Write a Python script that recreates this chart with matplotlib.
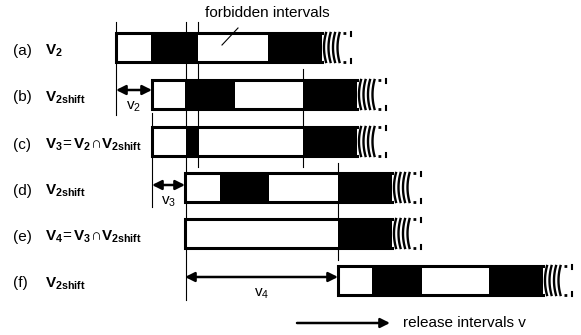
import numpy as np
import matplotlib
matplotlib.use('Agg')
import matplotlib.pyplot as plt
from matplotlib.patches import Rectangle

plt.rcParams['font.family'] = ['Liberation Sans', 'DejaVu Sans']
plt.rcParams['mathtext.fontset'] = 'custom'
plt.rcParams['mathtext.rm'] = 'Liberation Sans'
plt.rcParams['mathtext.it'] = 'Liberation Sans'
plt.rcParams['mathtext.bf'] = 'Liberation Sans:bold'

# rows of the diagram (pixel scale of the original figure)
row_tags = ['(a)', '(b)', '(c)', '(d)', '(e)', '(f)']
row_names = [r'$\mathbf{V_2}$',
             r'$\mathbf{V_{2shift}}$',
             r'$\mathbf{V_3}\!{=}\mathbf{V_2}{\cap}\mathbf{V_{2shift}}$',
             r'$\mathbf{V_{2shift}}$',
             r'$\mathbf{V_4}\!{=}\mathbf{V_3}{\cap}\mathbf{V_{2shift}}$',
             r'$\mathbf{V_{2shift}}$']
row_y = [47.5, 94.5, 141.5, 187.5, 233.5, 280.5]
bar_start = [116, 152, 152, 185, 185, 338]
bar_end = [322, 357, 357, 392, 392, 543]
forbidden = [
    [(151, 198), (268, 322)],
    [(185, 235), (303, 357)],
    [(186, 199), (303, 357)],
    [(220, 269), (338, 392)],
    [(338, 392)],
    [(372, 422), (489, 543)],
]

# thin guide lines: x, y from, y to
guides = [(116, 22, 115), (186, 22, 300), (198, 22, 167),
          (152, 113, 207), (303, 69, 167), (338, 163, 260)]

# shift arrows: x from, x to, y, label
shifts = [(116, 152, 90, r'v$_2$'), (152, 185, 185, r'v$_3$'), (185, 338, 277, r'v$_4$')]

H = 29

fig = plt.figure(figsize=(5.81, 3.35), dpi=100)
ax = fig.add_axes([0, 0, 1, 1])
ax.set_xlim(0, 581)
ax.set_ylim(335, 0)
ax.axis('off')

for x, y0, y1 in guides:
    ax.plot([x, x], [y0, y1], color='black', lw=0.8, zorder=1)

for i in range(len(row_y)):
    yc = row_y[i]
    top, bot = yc - H / 2, yc + H / 2
    s, e = bar_start[i], bar_end[i]
    ax.add_patch(Rectangle((s, top), e - s, H, facecolor='white', edgecolor='none', zorder=2))
    for a, b in forbidden[i]:
        ax.add_patch(Rectangle((a, top), b - a, H, facecolor='black', edgecolor='none', zorder=3))
    ax.plot([e, s, s, e], [top, top, bot, bot], color='black', lw=2.2,
            solid_joinstyle='miter', zorder=4)
    # broken continuation marks
    yy = np.linspace(top, bot, 30)
    for k in range(4):
        x0 = e + 2 + 4.5 * k
        ax.plot(x0 + 2.0 * ((yy - yc) / (H / 2)) ** 2, yy, color='black', lw=1.7, zorder=4)
    for yl in (top, bot):
        ax.plot([e + 21, e + 27], [yl, yl], color='black', lw=2, ls=(0, (1, 1.3)), zorder=4)
    ax.plot([e + 29, e + 29], [top - 1, top + 3], color='black', lw=1.5, zorder=4)
    ax.plot([e + 29, e + 29], [bot - 3, bot + 1], color='black', lw=1.5, zorder=4)

    ax.text(13, yc + 3, row_tags[i], fontsize=11, ha='left', va='center')
    ax.text(45, yc + 3, row_names[i], fontsize=11, ha='left', va='center')

for x0, x1, y, lab in shifts:
    ax.annotate('', xy=(x1, y), xytext=(x0, y),
                arrowprops=dict(arrowstyle='<|-|>', color='black', lw=1.8,
                                mutation_scale=14, shrinkA=0, shrinkB=0), zorder=5)
    ax.text((x0 + x1) / 2, y + 17, lab, fontsize=11, ha='center', va='center')

ax.text(205, 13, 'forbidden intervals', fontsize=11, ha='left', va='center')
ax.plot([222, 238], [45, 28], color='black', lw=0.8, zorder=5)

ax.annotate('', xy=(390, 323), xytext=(297, 323),
            arrowprops=dict(arrowstyle='-|>', color='black', lw=1.8,
                            mutation_scale=14, shrinkA=0, shrinkB=0))
ax.text(403, 323, 'release intervals v', fontsize=11, ha='left', va='center')

fig.savefig('out.png', dpi=100)
